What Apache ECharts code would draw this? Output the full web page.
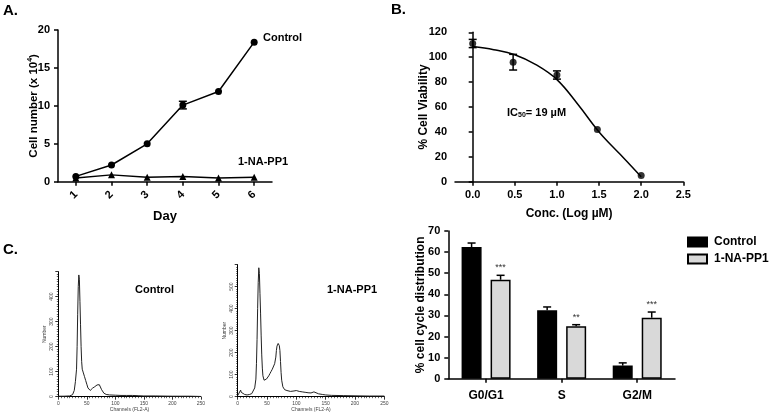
<!DOCTYPE html>
<html><head><meta charset="utf-8">
<script src="https://cdn.jsdelivr.net/npm/echarts@6/dist/echarts.min.js"></script>
<style>html,body{margin:0;padding:0;background:#fff}#c{width:771px;height:414px}</style>
</head><body><div id="c"></div>
<script>
const FONT = "'Liberation Sans', Arial, sans-serif";
// ---- Panel A: growth curve ----
const days = ['1', '2', '3', '4', '5', '6'];
const growthControl = [0.7, 2.2, 5.0, 10.1, 11.9, 18.4];
const growthControlErr = [0, 0, 0, 0.5, 0, 0];
const growthDrug = [0.5, 0.9, 0.6, 0.7, 0.5, 0.6];
// ---- Panel B: dose response ----
const logConc = [0.0, 0.48, 1.0, 1.48, 2.0];
const viability = [111, 96, 85.7, 42, 5];
const viabilityErr = [3.3, 6.3, 3.3, 0, 0];
const fitX = [0, 0.25, 0.5, 0.75, 1.0, 1.25, 1.5, 1.75, 2.0];
const fitY = [108.5, 106, 102, 94, 82, 62, 40, 22, 4];
const concTicks = [0, 0.5, 1.0, 1.5, 2.0, 2.5];
// ---- Panel C: DNA histograms (channel, count) ----
const histControl = [[0,2],[10,2],[20,3],[25,8],[28,25],[30,60],[32,110],[33,200],[34,330],[35,440],[36,487],[37,470],[38,380],[39,290],[40,200],[41,140],[42,110],[44,95],[46,80],[48,65],[50,50],[52,35],[54,27],[56,25],[58,30],[60,34],[62,38],[64,40],[66,42],[68,47],[70,50],[71,54],[72,48],[73,52],[74,40],[76,28],[78,20],[80,14],[84,9],[90,7],[100,6],[110,5],[120,5],[130,5],[140,4],[150,3],[170,3],[200,2],[230,2],[250,1]];
const histDrug = [[0,5],[3,10],[5,30],[6,20],[8,12],[12,10],[16,8],[20,10],[24,14],[27,20],[29,40],[31,80],[32,150],[33,260],[34,400],[35,520],[36,586],[37,560],[38,470],[39,380],[40,280],[41,190],[42,130],[43,95],[45,75],[47,70],[49,80],[51,85],[53,95],[55,105],[57,115],[59,125],[61,130],[63,150],[65,180],[66,210],[67,230],[69,242],[70,240],[71,232],[72,210],[73,160],[74,110],[75,75],[77,45],[80,32],[84,28],[90,24],[96,26],[100,28],[105,24],[110,22],[115,20],[120,18],[125,17],[130,22],[133,18],[138,13],[145,10],[150,8],[160,6],[180,5],[200,4],[225,3],[250,3]];
// ---- Panel D: cell cycle distribution ----
const phases = ['G0/G1', 'S', 'G2/M'];
const phaseControl = [62.4, 32.4, 6.2];
const phaseControlErr = [1.9, 1.6, 1.3];
const phaseDrug = [46.9, 24.8, 28.9];
const phaseDrugErr = [2.1, 0.8, 2.7];
const significance = ['***', '**', '***'];

const BAR_W = 20, BAR_GAP = 0.45;

const axLine = { show: true, lineStyle: { color: '#000', width: 1.5 } };
const axTick = { show: true, length: 4, lineStyle: { color: '#000', width: 1.5 } };
const axLabel = { color: '#000', fontWeight: 'bold', fontSize: 11, fontFamily: FONT };
const nameStyle = (s) => ({ color: '#000', fontWeight: 'bold', fontSize: s, fontFamily: FONT });

function errorBars(offsetPx, oneSided, labels) {
  return function (params, api) {
    const x = api.value(0), lo = api.value(1), hi = api.value(2);
    const a = api.coord([x, lo]), b = api.coord([x, hi]);
    const cx = a[0] + offsetPx;
    const cap = 4;
    const ls = { stroke: '#000', lineWidth: 1.5 };
    const ch = [];
    if (hi - lo > 0) {
      ch.push({ type: 'line', shape: { x1: cx, y1: a[1], x2: cx, y2: b[1] }, style: ls });
      ch.push({ type: 'line', shape: { x1: cx - cap, y1: b[1], x2: cx + cap, y2: b[1] }, style: ls });
      if (!oneSided) ch.push({ type: 'line', shape: { x1: cx - cap, y1: a[1], x2: cx + cap, y2: a[1] }, style: ls });
    }
    if (labels) {
      ch.push({ type: 'text', x: cx, y: b[1] - 3, style: { text: labels[params.dataIndex], fill: '#333', font: '9px ' + FONT, align: 'center', verticalAlign: 'bottom' } });
    }
    return { type: 'group', children: ch };
  };
}

const histX = (gi, name) => ({
  gridIndex: gi, type: 'value', min: 0, max: 250, interval: 50,
  axisLine: { lineStyle: { color: '#000', width: 1 } },
  axisTick: { length: 3, lineStyle: { color: '#000', width: 0.8 } },
  minorTick: { show: true, splitNumber: 10, length: 1.5, lineStyle: { color: '#000', width: 0.6 } },
  axisLabel: { color: '#444', fontSize: 5, fontFamily: FONT, margin: 4 },
  splitLine: { show: false }, minorSplitLine: { show: false },
  name: name, nameLocation: 'middle', nameGap: 10, nameTextStyle: { color: '#444', fontSize: 5, fontFamily: FONT }
});
const histY = (gi, max) => ({
  gridIndex: gi, type: 'value', min: 0, max: max, interval: 100,
  axisLine: { show: true, lineStyle: { color: '#000', width: 1 } },
  axisTick: { show: true, length: 3, lineStyle: { color: '#000', width: 0.8 } },
  minorTick: { show: true, splitNumber: 10, length: 1.5, lineStyle: { color: '#000', width: 0.6 } },
  axisLabel: { color: '#444', fontSize: 5, fontFamily: FONT, rotate: 90, margin: 4, formatter: (v) => v === max ? '' : String(v) },
  splitLine: { show: false }, minorSplitLine: { show: false },
  name: 'Number', nameLocation: 'middle', nameGap: 11, nameMoveOverlap: false, nameTextStyle: { color: '#444', fontSize: 5, fontFamily: FONT }
});

const chart = echarts.init(document.getElementById('c'), null, { renderer: 'canvas' });
chart.setOption({
  animation: false,
  backgroundColor: '#fff',
  textStyle: { fontFamily: FONT },
  grid: [
    { left: 58, top: 30, width: 214, height: 151.7, outerBoundsMode: 'none' },
    { left: 455, top: 32.3, width: 228.3, height: 149.4, outerBoundsMode: 'none' },
    { left: 58.3, top: 271.7, width: 142.5, height: 125, outerBoundsMode: 'none' },
    { left: 237.7, top: 264.7, width: 146.6, height: 132, outerBoundsMode: 'none' },
    { left: 448.3, top: 231, width: 226.7, height: 147.7, outerBoundsMode: 'none' }
  ],
  xAxis: [
    { gridIndex: 0, type: 'category', data: days, boundaryGap: true,
      axisLine: axLine, axisTick: Object.assign({ alignWithLabel: true }, axTick),
      axisLabel: Object.assign({ rotate: 45, margin: 11 }, axLabel),
      name: 'Day', nameLocation: 'middle', nameGap: 28, nameTextStyle: nameStyle(13) },
    { gridIndex: 1, type: 'value', min: -0.21, max: 2.5,
      axisLine: axLine, axisTick: Object.assign({ customValues: concTicks }, axTick),
      axisLabel: Object.assign({ customValues: concTicks, formatter: (v) => v.toFixed(1) }, axLabel),
      splitLine: { show: false },
      name: 'Conc. (Log µM)', nameLocation: 'middle', nameGap: 26, nameTextStyle: nameStyle(12) },
    histX(2, 'Channels (FL2-A)'),
    histX(3, 'Channels (FL2-A)'),
    { gridIndex: 4, type: 'category', data: phases, boundaryGap: true,
      axisLine: axLine, axisTick: Object.assign({ alignWithLabel: true }, axTick),
      axisLabel: Object.assign({}, axLabel, { fontSize: 12, margin: 11 }) }
  ],
  yAxis: [
    { gridIndex: 0, type: 'value', min: 0, max: 20, interval: 5,
      axisLine: axLine, axisTick: axTick, axisLabel: axLabel, splitLine: { show: false },
      name: '{a|Cell number (x 10}{s|4}{a|)}', nameLocation: 'middle', nameGap: 18, nameMoveOverlap: false,
      nameTextStyle: { rich: { a: nameStyle(11.5), s: Object.assign(nameStyle(7), { verticalAlign: 'top', padding: [0, 0, 6, 0] }) } } },
    { gridIndex: 1, type: 'value', min: 0, max: 120, interval: 20,
      axisLine: axLine, axisTick: axTick, axisLabel: axLabel, splitLine: { show: false },
      name: '% Cell Viability', nameLocation: 'middle', nameGap: 25, nameMoveOverlap: false, nameTextStyle: nameStyle(12) },
    histY(2, 500),
    histY(3, 600),
    { gridIndex: 4, type: 'value', min: 0, max: 70, interval: 10,
      axisLine: axLine, axisTick: axTick, axisLabel: axLabel, splitLine: { show: false },
      name: '% cell cycle distribution', nameLocation: 'middle', nameGap: 22, nameMoveOverlap: false, nameTextStyle: nameStyle(12) }
  ],
  legend: {
    data: ['Control', '1-NA-PP1'], orient: 'vertical', left: 687, top: 236, icon: 'rect',
    itemWidth: 19, itemHeight: 9, itemGap: 5, selectedMode: false, padding: 0,
    textStyle: { color: '#000', fontWeight: 'bold', fontSize: 12, fontFamily: FONT, padding: [0, 0, 0, 2] }
  },
  graphic: [
    { type: 'text', left: 3, top: 3, style: { text: 'A.', font: 'bold 15px ' + FONT, fill: '#000' } },
    { type: 'text', left: 391, top: 2, style: { text: 'B.', font: 'bold 15px ' + FONT, fill: '#000' } },
    { type: 'text', left: 3, top: 242, style: { text: 'C.', font: 'bold 15px ' + FONT, fill: '#000' } },
    { type: 'text', left: 263, top: 32, style: { text: 'Control', font: 'bold 11px ' + FONT, fill: '#000' } },
    { type: 'text', left: 238, top: 156, style: { text: '1-NA-PP1', font: 'bold 11px ' + FONT, fill: '#000' } },
    { type: 'text', left: 135, top: 284, style: { text: 'Control', font: 'bold 11px ' + FONT, fill: '#000' } },
    { type: 'text', left: 327, top: 284, style: { text: '1-NA-PP1', font: 'bold 11px ' + FONT, fill: '#000' } },
    { type: 'text', left: 507, top: 107, style: { text: '{a|IC}{s|50}{a|= 19 µM}', rich: { a: { font: 'bold 11px ' + FONT, fill: '#000' }, s: { font: 'bold 7px ' + FONT, fill: '#000', padding: [6, 0, 0, 0] } } } }
  ],
  series: [
    { name: 'growth-control', type: 'line', xAxisIndex: 0, yAxisIndex: 0, data: growthControl,
      symbol: 'circle', symbolSize: 7, color: '#000', lineStyle: { color: '#000', width: 1.5 }, itemStyle: { color: '#000' } },
    { name: 'growth-drug', type: 'line', xAxisIndex: 0, yAxisIndex: 0, data: growthDrug,
      symbol: 'triangle', symbolSize: 7, color: '#000', lineStyle: { color: '#000', width: 1.5 }, itemStyle: { color: '#000' } },
    { name: 'growth-err', type: 'custom', xAxisIndex: 0, yAxisIndex: 0,
      data: growthControl.map((v, i) => [i, v - growthControlErr[i], v + growthControlErr[i]]),
      renderItem: errorBars(0, false), encode: { x: 0, y: [1, 2] }, z: 5 },
    { name: 'viab-fit', type: 'line', xAxisIndex: 1, yAxisIndex: 1, data: fitX.map((x, i) => [x, fitY[i]]),
      smooth: 0.4, symbol: 'none', lineStyle: { color: '#000', width: 1.5 } },
    { name: 'viab-pts', type: 'scatter', xAxisIndex: 1, yAxisIndex: 1, data: logConc.map((x, i) => [x, viability[i]]),
      symbol: 'circle', symbolSize: 7, itemStyle: { color: '#000' } },
    { name: 'viab-err', type: 'custom', xAxisIndex: 1, yAxisIndex: 1,
      data: logConc.map((x, i) => [x, viability[i] - viabilityErr[i], viability[i] + viabilityErr[i]]),
      renderItem: errorBars(0, false), encode: { x: 0, y: [1, 2] }, z: 5 },
    { name: 'hist-control', type: 'line', xAxisIndex: 2, yAxisIndex: 2, data: histControl,
      symbol: 'none', lineStyle: { color: '#222', width: 1 } },
    { name: 'hist-drug', type: 'line', xAxisIndex: 3, yAxisIndex: 3, data: histDrug,
      symbol: 'none', lineStyle: { color: '#222', width: 1 } },
    { name: 'Control', type: 'bar', xAxisIndex: 4, yAxisIndex: 4, data: phaseControl,
      barWidth: BAR_W, barGap: (BAR_GAP * 100) + '%',
      itemStyle: { color: '#000', borderColor: '#000', borderWidth: 1.5 } },
    { name: '1-NA-PP1', type: 'bar', xAxisIndex: 4, yAxisIndex: 4, data: phaseDrug,
      barWidth: BAR_W, barGap: (BAR_GAP * 100) + '%',
      itemStyle: { color: '#d9d9d9', borderColor: '#000', borderWidth: 1.5 } },
    { name: 'err-control', type: 'custom', xAxisIndex: 4, yAxisIndex: 4,
      data: phaseControl.map((v, i) => [i, v, v + phaseControlErr[i]]),
      renderItem: errorBars(-BAR_W * (1 + BAR_GAP) / 2, true), encode: { x: 0, y: [1, 2] }, z: 5 },
    { name: 'err-drug', type: 'custom', xAxisIndex: 4, yAxisIndex: 4,
      data: phaseDrug.map((v, i) => [i, v, v + phaseDrugErr[i]]),
      renderItem: errorBars(BAR_W * (1 + BAR_GAP) / 2, true, significance), encode: { x: 0, y: [1, 2] }, z: 5 }
  ]
});
</script>
</body></html>
